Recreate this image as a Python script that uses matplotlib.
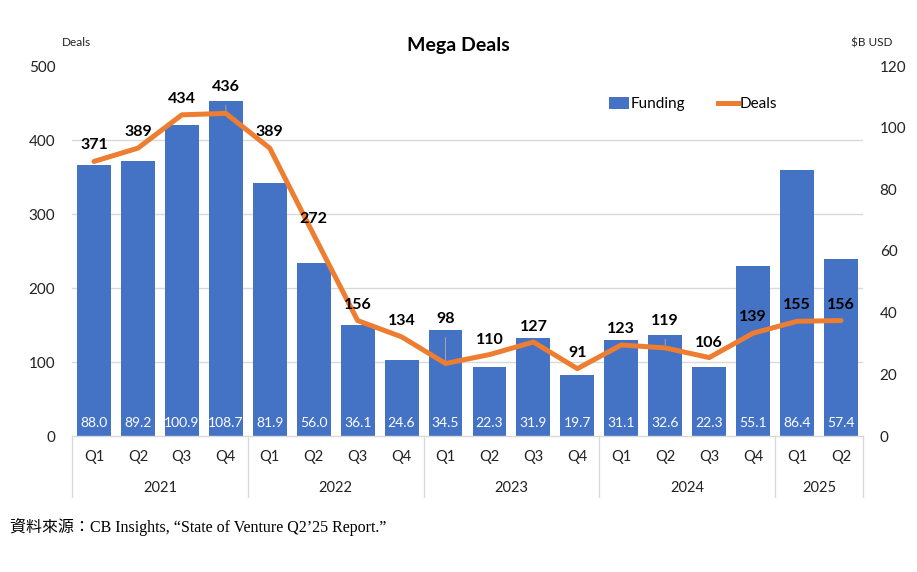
import matplotlib
matplotlib.use("Agg")
import matplotlib.pyplot as plt
import matplotlib.transforms as mtransforms
from matplotlib.patches import Patch
from matplotlib.lines import Line2D
from matplotlib.ticker import FixedLocator
import numpy as np

quarters = ["Q1", "Q2", "Q3", "Q4"] * 4 + ["Q1", "Q2"]
years = ["2021", "2022", "2023", "2024", "2025"]
year_sizes = [4, 4, 4, 4, 2]
funding = [88.0, 89.2, 100.9, 108.7, 81.9, 56.0, 36.1, 24.6, 34.5, 22.3,
           31.9, 19.7, 31.1, 32.6, 22.3, 55.1, 86.4, 57.4]
deals = [371, 389, 434, 436, 389, 272, 156, 134, 98, 110, 127, 91, 123,
         119, 106, 139, 155, 156]
deal_ticks = [0, 100, 200, 300, 400, 500]
fund_ticks = [0, 20, 40, 60, 80, 100, 120]
# label placement (pixels above the line point); larger ones get leader lines
label_lift_px = [16, 16, 16, 26, 16, 16, 16, 16, 44, 15, 15, 16, 16,
                 27, 15, 16, 16, 16]

BLUE = "#4472C4"
ORANGE = "#ED7D31"
GRID = "#D9D9D9"
TXT = "#000000"
FONT = ["Lato", "DejaVu Sans"]
plt.rcParams["font.family"] = FONT

fig = plt.figure(figsize=(9.17, 5.72), dpi=100)
ax_f = fig.add_axes([72/917, 1-436/572, (863-72)/917, 370/572])
ax_d = ax_f.twinx()

x = np.arange(len(funding))
ax_f.bar(x, funding, width=0.77, color=BLUE, zorder=2)
ax_f.set_ylim(0, fund_ticks[-1])
ax_f.set_xlim(-0.5, len(funding) - 0.5)
ax_f.yaxis.tick_right()
ax_f.set_yticks(fund_ticks)
ax_f.tick_params(axis="y", length=0, pad=12, labelsize=11, colors="#222222")
ratio = fund_ticks[-1] / deal_ticks[-1]
ax_f.yaxis.set_minor_locator(FixedLocator([t * ratio for t in deal_ticks]))
ax_f.grid(which="minor", axis="y", color=GRID, linewidth=1, zorder=0)
ax_f.tick_params(axis="y", which="minor", length=0)
ax_f.set_axisbelow(True)
ax_f.set_xticks([])
for s in ["top", "left", "right"]:
    ax_f.spines[s].set_visible(False)
ax_f.spines["bottom"].set_color(GRID)
ax_f.spines["bottom"].set_linewidth(1)

for i, v in enumerate(funding):
    ax_f.annotate(f"{v:.1f}", (i, 0), xytext=(0, 9.5), textcoords="offset points",
                  ha="center", va="center", color="white", fontsize=10, zorder=5)

ax_d.plot(x, deals, color=ORANGE, linewidth=3.6, solid_capstyle="round", zorder=3)
ax_d.set_ylim(0, deal_ticks[-1])
ax_d.yaxis.tick_left()
ax_d.set_yticks(deal_ticks)
ax_d.tick_params(axis="y", length=0, pad=12, labelsize=11, colors="#222222")
for s in ["top", "left", "right", "bottom"]:
    ax_d.spines[s].set_visible(False)
for i, v in enumerate(deals):
    lift = label_lift_px[i]
    kw = {}
    if lift > 20:
        kw["arrowprops"] = dict(arrowstyle="-", color="#A6A6A6", lw=0.7,
                                shrinkA=6, shrinkB=2)
    ax_d.annotate(str(v), (i, v), xytext=(0, lift * 0.72), textcoords="offset points",
                  ha="center", va="center", color=TXT, fontsize=11.5,
                  fontweight="bold", zorder=6, **kw)

trans = mtransforms.blended_transform_factory(ax_f.transData, ax_f.transAxes)
for i, q in enumerate(quarters):
    ax_f.text(i, -0.057, q, transform=trans, ha="center", va="center",
              fontsize=10.5, color="#222222")
start = 0
bounds = [-0.5]
for y, n in zip(years, year_sizes):
    ax_f.text(start + (n - 1) / 2, -0.14, y, transform=trans, ha="center",
              va="center", fontsize=10.5, color="#222222")
    start += n
    bounds.append(start - 0.5)
for b in bounds:
    ax_f.add_line(Line2D([b, b], [0, -0.165], transform=trans, color=GRID,
                         linewidth=1, clip_on=False))

fig.text(0.5, 1-46/572, "Mega Deals", ha="center", va="center",
         fontsize=14, fontweight="bold", color=TXT)
fig.text(62/917, 1-43/572, "Deals", ha="left", va="center", fontsize=8.5,
         color="#222222")
fig.text(851/917, 1-43/572, "$B USD", ha="left", va="center", fontsize=8.5,
         color="#222222")

handles = [Patch(facecolor=BLUE, edgecolor="none", label="Funding"),
           Line2D([0], [0], color=ORANGE, linewidth=3.6, label="Deals")]
fig.legend(handles=handles, loc="center", bbox_to_anchor=(693/917, 1-104/572),
           ncol=2, frameon=False, fontsize=11, handlelength=1.3,
           handletextpad=0.1, columnspacing=2.2, handleheight=0.8)

fig.text(10/917, 1-527/572,
         "資料來源：CB Insights, “State of Venture Q2’25 Report.”",
         ha="left", va="center", fontsize=11.5,
         family=["Liberation Serif", "Noto Sans CJK TC"], color=TXT)

fig.savefig("out.png", dpi=100, facecolor="white")
